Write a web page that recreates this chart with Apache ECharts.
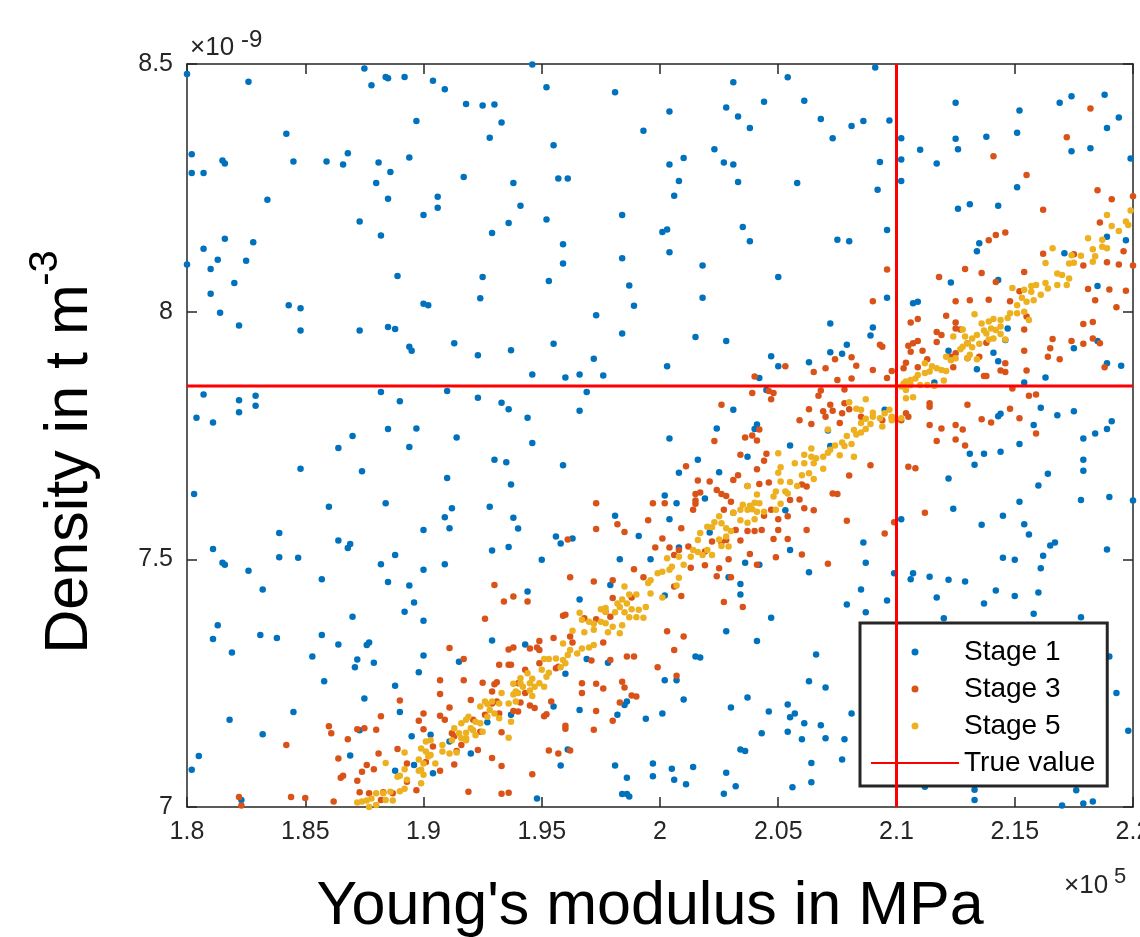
<!DOCTYPE html>
<html><head><meta charset="utf-8">
<script src="https://cdn.jsdelivr.net/npm/echarts@6/dist/echarts.min.js"></script>
<style>html,body{margin:0;padding:0;background:#fff}#c{width:1140px;height:937px}</style>
</head><body><div id="c"></div>
<script>
// Young's modulus (x10^5 MPa), density (x10^-9 t/m^3)
const stage1 = [
[1.800,8.480],[1.826,8.464],[1.875,8.491],[1.878,8.457],[1.884,8.474],[1.885,8.471],[1.892,8.474],[1.897,8.385],[1.842,8.359],[1.802,8.318],[1.815,8.305],[1.816,8.299],[1.845,8.303],[1.859,8.303],[1.868,8.320],[1.866,8.297],[1.881,8.301],[1.894,8.311],[1.802,8.280],[1.807,8.280],[1.886,8.282],[1.880,8.260],[1.834,8.226],[1.885,8.228],[1.873,8.182],[1.882,8.154],[1.816,8.147],[1.828,8.140],[1.807,8.127],[1.813,8.105],[1.825,8.103],[1.800,8.095],[1.810,8.086],[1.889,8.072],[1.820,8.058],[1.810,8.036],[1.843,8.013],[1.848,8.007],
[1.946,8.499],[1.904,8.466],[1.909,8.449],[1.952,8.453],[1.981,8.443],[1.918,8.419],[1.925,8.416],[1.930,8.418],[1.933,8.382],[1.928,8.351],[1.993,8.365],[1.955,8.336],[1.917,8.272],[1.938,8.260],[1.957,8.269],[1.961,8.269],[1.906,8.232],[1.906,8.210],[1.900,8.195],[1.941,8.214],[1.952,8.186],[1.984,8.195],[1.936,8.179],[1.929,8.159],[1.959,8.136],[1.959,8.097],[1.984,8.108],[1.925,8.070],[1.953,8.062],[1.987,8.053],[1.924,8.027],[1.900,8.016],[1.902,8.013],[1.989,8.012],
[2.091,8.493],[2.031,8.463],[2.054,8.473],[2.004,8.404],[2.044,8.424],[2.061,8.426],[2.028,8.412],[2.033,8.394],[2.038,8.371],[2.068,8.389],[2.081,8.375],[2.086,8.385],[2.097,8.386],[2.073,8.350],[2.023,8.328],[2.010,8.310],[2.004,8.297],[2.027,8.301],[2.031,8.297],[2.093,8.302],[2.008,8.264],[2.033,8.262],[2.058,8.260],[2.006,8.234],[2.092,8.246],[2.001,8.161],[2.003,8.166],[2.035,8.171],[2.096,8.165],[2.038,8.142],[2.075,8.145],[2.080,8.142],[2.004,8.120],[2.018,8.093],[2.050,8.070],[2.018,8.028],[2.096,8.028],
[2.102,8.350],[2.102,8.307],[2.102,8.264],[2.125,8.422],[2.152,8.406],[2.169,8.422],[2.174,8.435],[2.188,8.438],[2.194,8.392],[2.189,8.371],[2.125,8.349],[2.138,8.353],[2.151,8.361],[2.110,8.327],[2.126,8.328],[2.117,8.299],[2.174,8.324],[2.182,8.330],[2.199,8.309],[2.151,8.251],[2.126,8.208],[2.131,8.217],[2.143,8.214],[2.135,8.138],[2.134,8.122],[2.171,8.118],[2.189,8.151],[2.197,8.144],[2.123,8.059],[2.143,8.064],[2.185,8.052],[2.107,8.017],[2.109,8.020],
[1.814,7.998],[1.822,7.972],[1.848,7.962],[1.873,7.962],[1.885,7.969],[1.888,7.965],[1.894,7.929],[1.895,7.921],[1.807,7.833],[1.822,7.821],[1.829,7.830],[1.829,7.810],[1.804,7.786],[1.811,7.776],[1.822,7.797],[1.882,7.838],[1.890,7.819],[1.885,7.763],[1.897,7.764],[1.870,7.749],[1.864,7.725],[1.894,7.727],[1.848,7.683],[1.874,7.678],[1.803,7.632],[1.860,7.606],[1.884,7.613],[1.839,7.553],[1.864,7.538],[1.869,7.531],[1.868,7.523],[1.811,7.521],[1.839,7.504],[1.847,7.503],[1.888,7.509],
[1.973,7.993],[1.984,7.956],[1.913,7.936],[1.923,7.912],[1.937,7.922],[1.955,7.935],[1.972,7.905],[1.946,7.873],[1.960,7.867],[1.966,7.873],[1.976,7.871],[1.910,7.840],[1.923,7.826],[1.933,7.816],[1.936,7.803],[1.944,7.786],[1.969,7.838],[1.966,7.800],[1.914,7.746],[1.946,7.735],[1.930,7.701],[1.935,7.696],[1.959,7.690],[1.910,7.664],[1.937,7.651],[1.912,7.603],[1.928,7.606],[1.909,7.585],[1.911,7.563],[1.938,7.584],[1.940,7.562],[1.900,7.559],[1.956,7.546],[1.958,7.532],[1.963,7.542],[1.929,7.518],[1.936,7.525],[1.981,7.588],[1.991,7.547],[1.950,7.499],[1.983,7.500],[1.996,7.500],
[2.072,7.976],[2.090,7.968],[2.089,7.952],[2.015,7.949],[2.028,7.941],[2.079,7.933],[2.072,7.918],[2.077,7.915],[2.047,7.910],[2.003,7.890],[2.050,7.890],[2.063,7.898],[2.042,7.866],[2.045,7.842],[2.031,7.802],[2.095,7.802],[2.024,7.764],[2.041,7.772],[2.040,7.763],[2.004,7.744],[2.055,7.730],[2.072,7.729],[2.037,7.707],[2.016,7.701],[2.008,7.675],[2.025,7.676],[2.002,7.629],[2.007,7.613],[2.019,7.623],[2.004,7.581],[2.053,7.599],[2.021,7.554],[2.008,7.524],[2.055,7.519],[2.086,7.534],[2.071,7.760],
[2.147,7.966],[2.146,7.943],[2.175,7.926],[2.185,7.941],[2.189,7.896],[2.195,7.891],[2.122,7.921],[2.141,7.917],[2.143,7.900],[2.134,7.884],[2.116,7.857],[2.154,7.857],[2.163,7.867],[2.161,7.806],[2.168,7.791],[2.175,7.799],[2.143,7.789],[2.144,7.794],[2.158,7.771],[2.191,7.779],[2.189,7.763],[2.184,7.754],[2.179,7.744],[2.152,7.733],[2.144,7.717],[2.137,7.713],[2.131,7.713],[2.133,7.691],[2.179,7.701],[2.179,7.679],[2.164,7.673],[2.122,7.663],[2.160,7.649],[2.200,7.619],[2.178,7.620],[2.190,7.626],[2.152,7.616],[2.124,7.602],[2.102,7.581],[2.136,7.570],[2.145,7.588],[2.154,7.571],[2.156,7.550],[2.165,7.528],[2.167,7.534],[2.189,7.520],[2.162,7.507],[2.145,7.503],[2.150,7.499],
[1.815,7.493],[1.816,7.489],[1.826,7.477],[1.882,7.490],[1.857,7.460],[1.832,7.439],[1.885,7.454],[1.894,7.447],[1.896,7.413],[1.892,7.394],[1.870,7.384],[1.813,7.367],[1.811,7.339],[1.831,7.347],[1.838,7.341],[1.857,7.347],[1.864,7.328],[1.876,7.327],[1.877,7.332],[1.819,7.312],[1.853,7.304],[1.872,7.298],[1.871,7.282],[1.879,7.291],[1.858,7.254],[1.888,7.245],[1.875,7.219],[1.890,7.192],[1.845,7.192],[1.818,7.176],[1.832,7.147],[1.873,7.155],[1.895,7.143],[1.869,7.104],[1.805,7.103],[1.802,7.075],[1.888,7.073],[1.896,7.085],[1.823,7.014],[1.898,7.272],
[1.909,7.490],[1.900,7.479],[1.944,7.435],[1.966,7.419],[1.979,7.448],[1.900,7.376],[1.929,7.336],[1.943,7.328],[1.900,7.306],[1.915,7.293],[1.969,7.299],[1.978,7.291],[1.960,7.269],[1.955,7.203],[1.966,7.196],[1.937,7.186],[1.927,7.171],[1.982,7.186],[1.985,7.206],[1.986,7.213],[1.994,7.178],[1.903,7.146],[1.911,7.132],[1.920,7.108],[1.904,7.068],[1.961,7.116],[1.958,7.084],[1.981,7.084],[1.986,7.059],[1.997,7.088],[1.997,7.062],[1.984,7.026],[1.986,7.026],[1.987,7.021],[1.948,7.017],
[2.036,7.493],[2.042,7.489],[2.029,7.464],[2.063,7.474],[2.087,7.493],[2.099,7.472],[2.034,7.450],[2.034,7.429],[2.002,7.427],[2.085,7.439],[2.079,7.409],[2.087,7.393],[2.096,7.417],[2.047,7.382],[2.028,7.355],[2.041,7.335],[2.066,7.308],[2.015,7.304],[2.017,7.302],[2.002,7.256],[2.007,7.256],[2.063,7.254],[2.070,7.241],[2.010,7.217],[2.030,7.201],[2.037,7.221],[2.001,7.189],[2.046,7.193],[2.054,7.207],[2.055,7.181],[2.057,7.189],[2.061,7.169],[2.068,7.165],[2.081,7.189],[2.043,7.149],[2.054,7.152],[2.060,7.137],[2.070,7.139],[2.078,7.137],[2.034,7.116],[2.036,7.113],[2.064,7.089],[2.077,7.096],[2.005,7.077],[2.014,7.081],[2.006,7.055],[2.011,7.046],[2.028,7.069],[2.032,7.042],[2.027,7.027],[2.056,7.040],[2.064,7.050],
[2.161,7.482],[2.107,7.472],[2.106,7.460],[2.114,7.465],[2.122,7.459],[2.129,7.455],[2.117,7.423],[2.142,7.437],[2.150,7.426],[2.160,7.433],[2.137,7.411],[2.158,7.390],[2.120,7.381],[2.178,7.383],[2.190,7.304],[2.193,7.230],[2.198,7.154],[2.112,7.041],[2.133,7.035],[2.133,7.014],[2.176,7.034],[2.170,7.003],[2.179,7.007],[2.183,7.011]
];
const stage3 = [
[2.096,8.085],[2.090,8.021],
[2.182,8.410],[2.172,8.352],[2.141,8.314],[2.155,8.276],[2.185,8.245],[2.191,8.227],[2.200,8.233],[2.162,8.206],[2.186,8.180],[2.146,8.160],[2.142,8.155],[2.139,8.144],[2.162,8.117],[2.175,8.116],[2.179,8.093],[2.189,8.100],[2.194,8.095],[2.196,8.122],[2.200,8.093],[2.118,8.070],[2.129,8.086],[2.136,8.078],[2.154,8.080],[2.142,8.060],[2.125,8.021],[2.131,8.023],[2.139,8.024],[2.148,8.021],[2.152,8.041],[2.184,8.023],[2.190,8.045],[2.197,8.042],[2.181,8.046],[2.193,8.009],
[1.973,7.613],[1.997,7.613],[1.982,7.571],[1.985,7.555],[1.973,7.561],[1.961,7.540],[1.995,7.579],[1.998,7.524],
[2.093,7.933],[2.094,7.929],[2.081,7.908],[2.074,7.904],[2.083,7.891],[2.070,7.886],[2.065,7.878],[2.053,7.890],[2.040,7.869],[2.098,7.880],[2.090,7.882],[2.075,7.862],[2.081,7.865],[2.096,7.866],[2.068,7.841],[2.078,7.843],[2.067,7.830],[2.039,7.836],[2.046,7.840],[2.048,7.836],[2.047,7.823],[2.026,7.812],[2.072,7.812],[2.073,7.800],[2.069,7.799],[2.070,7.788],[2.077,7.795],[2.080,7.803],[2.078,7.815],[2.063,7.803],[2.059,7.781],[2.064,7.773],[2.076,7.775],[2.085,7.788],[2.094,7.781],[2.098,7.786],[2.042,7.762],[2.036,7.746],[2.039,7.750],[2.041,7.740],[2.023,7.739],[2.034,7.711],[2.045,7.713],[2.044,7.699],[2.011,7.688],[2.041,7.682],[2.033,7.670],[2.031,7.660],[2.021,7.657],[2.016,7.659],[2.037,7.648],[2.042,7.652],[2.046,7.655],[2.015,7.632],[2.017,7.635],[2.024,7.640],[2.026,7.632],[2.028,7.628],[2.002,7.613],[2.015,7.619],[2.015,7.612],[2.014,7.600],[2.030,7.616],[2.027,7.600],[2.031,7.594],[2.080,7.669],[2.089,7.690],[2.073,7.633],[2.075,7.632],[2.065,7.599],[2.079,7.578],[2.050,7.581],[2.054,7.587],[2.044,7.588],[2.047,7.600],[2.062,7.647],[2.059,7.621],[2.055,7.620],[2.061,7.603],[2.060,7.651],[2.009,7.563],[2.001,7.542],[2.004,7.524],[2.008,7.519],[2.006,7.509],[2.012,7.526],[2.019,7.516],[2.022,7.536],[2.026,7.534],[2.028,7.539],[2.034,7.538],[2.032,7.559],[2.037,7.557],[2.040,7.557],[2.043,7.559],[2.048,7.541],[2.050,7.559],[2.054,7.541],[2.062,7.559],[2.095,7.552],[2.099,7.575],[2.029,7.500],[2.038,7.511],[2.049,7.504],[2.060,7.510],
[2.121,7.992],[2.106,7.978],[2.109,7.985],[2.125,7.978],[2.125,7.966],[2.127,7.964],[2.117,7.959],[2.119,7.953],[2.117,7.939],[2.109,7.941],[2.107,7.936],[2.105,7.931],[2.106,7.919],[2.111,7.921],[2.123,7.909],[2.125,7.916],[2.130,7.906],[2.135,7.909],[2.130,7.936],[2.138,7.937],[2.104,7.897],[2.103,7.886],[2.109,7.888],[2.113,7.904],[2.124,7.888],[2.137,7.870],[2.138,7.870],[2.146,7.896],[2.144,7.881],[2.146,7.878],[2.155,7.881],[2.154,7.921],[2.154,7.964],[2.165,7.926],[2.166,7.945],[2.164,7.909],[2.169,7.904],[2.174,7.941],[2.179,7.975],[2.183,7.979],[2.179,7.935],[2.183,7.946],[2.186,7.936],[2.188,7.888],[2.149,7.845],[2.156,7.830],[2.159,7.833],[2.130,7.812],[2.114,7.815],[2.114,7.808],[2.104,7.795],[2.105,7.788],[2.102,7.781],[2.114,7.771],[2.119,7.764],[2.125,7.771],[2.128,7.762],[2.136,7.783],[2.140,7.776],[2.148,7.804],[2.152,7.785],[2.159,7.754],[2.117,7.739],[2.125,7.742],[2.129,7.730],[2.105,7.687],[2.108,7.684],[2.112,7.594],[2.155,7.990],
[1.890,7.215],[1.882,7.183],[1.860,7.163],[1.861,7.149],[1.872,7.157],[1.875,7.159],[1.880,7.156],[1.868,7.137],[1.842,7.125],[1.864,7.098],[1.881,7.108],[1.889,7.117],[1.893,7.088],[1.876,7.085],[1.874,7.071],[1.879,7.076],[1.866,7.063],[1.865,7.059],[1.872,7.053],[1.873,7.030],[1.877,7.028],[1.883,7.030],[1.882,7.014],[1.887,7.028],[1.862,7.011],[1.844,7.020],[1.850,7.018],[1.822,7.020],[1.823,7.003],[1.893,7.051],[1.897,7.034],[1.898,7.174],
[1.962,7.464],[1.989,7.480],[1.972,7.455],[1.980,7.458],[1.993,7.464],[1.930,7.448],[1.938,7.425],[1.934,7.415],[1.944,7.415],[1.988,7.423],[1.980,7.422],[1.926,7.380],[1.959,7.386],[1.960,7.388],[1.968,7.381],[1.977,7.394],[1.979,7.384],[1.973,7.379],[1.962,7.344],[1.955,7.341],[1.949,7.335],[1.936,7.318],[1.938,7.322],[1.911,7.321],[1.917,7.299],[1.945,7.320],[1.948,7.322],[1.949,7.317],[1.963,7.332],[1.976,7.332],[1.971,7.296],[1.979,7.297],[1.986,7.304],[1.989,7.304],[1.932,7.287],[1.936,7.287],[1.937,7.287],[1.943,7.277],[1.949,7.290],[1.956,7.280],[1.957,7.283],[1.907,7.256],[1.917,7.256],[1.925,7.251],[1.930,7.248],[1.929,7.233],[1.931,7.252],[1.940,7.250],[1.907,7.228],[1.920,7.216],[1.911,7.201],[1.929,7.209],[1.931,7.213],[1.941,7.211],[1.943,7.230],[1.945,7.205],[1.947,7.200],[1.954,7.213],[1.967,7.250],[1.973,7.249],[1.976,7.239],[1.967,7.230],[1.984,7.253],[1.985,7.241],[1.988,7.225],[1.990,7.223],[1.983,7.211],[1.900,7.189],[1.907,7.184],[1.909,7.176],[1.921,7.176],[1.926,7.186],[1.932,7.189],[1.938,7.194],[1.940,7.193],[1.951,7.183],[1.952,7.187],[1.973,7.194],[1.980,7.174],[1.960,7.164],[1.960,7.158],[1.972,7.156],[1.900,7.157],[1.912,7.149],[1.913,7.143],[1.924,7.152],[1.933,7.151],[1.904,7.122],[1.914,7.113],[1.916,7.125],[1.923,7.115],[1.953,7.114],[1.957,7.108],[1.962,7.114],[1.901,7.091],[1.913,7.086],[1.929,7.099],[1.907,7.073],[1.933,7.083],[1.946,7.066],[1.919,7.031],[1.933,7.027],[1.936,7.029],[1.999,7.282],
[2.013,7.483],[2.019,7.488],[2.025,7.482],[2.024,7.466],[2.030,7.464],[2.009,7.426],[2.006,7.445],[2.027,7.414],[2.035,7.404],[2.003,7.355],[2.010,7.344],[2.006,7.317],[2.007,7.265],[2.071,7.491],[2.041,7.489]
];
const stage5 = [
[2.189,8.195],[2.199,8.204],[2.191,8.173],[2.194,8.163],[2.197,8.182],[2.181,8.148],[2.187,8.145],[2.187,8.131],[2.189,8.128],[2.183,8.126],[2.184,8.112],[2.183,8.101],[2.178,8.113],[2.174,8.114],[2.173,8.097],[2.175,8.099],[2.166,8.128],[2.163,8.098],[2.168,8.077],[2.170,8.074],[2.173,8.067],[2.172,8.054],[2.168,8.054],[2.163,8.058],[2.164,8.047],[2.159,8.054],[2.157,8.052],[2.157,8.040],[2.161,8.034],[2.158,8.023],[2.155,8.020],[2.151,8.013],[2.149,8.048],[2.153,8.028],[2.154,8.044],[2.198,8.175],
[2.087,7.823],[2.080,7.817],[2.083,7.804],[2.085,7.802],[2.090,7.796],[2.087,7.784],[2.090,7.788],[2.093,7.785],[2.095,7.795],[2.097,7.802],[2.098,7.788],[2.085,7.775],[2.087,7.763],[2.082,7.761],[2.083,7.752],[2.079,7.749],[2.085,7.756],[2.089,7.773],[2.094,7.768],[2.098,7.781],[2.071,7.762],[2.074,7.730],[2.071,7.715],[2.077,7.736],[2.078,7.729],[2.081,7.733],[2.076,7.710],[2.082,7.707],[2.072,7.721],[2.069,7.707],[2.066,7.704],[2.064,7.724],[2.061,7.711],[2.064,7.707],[2.057,7.694],[2.061,7.694],[2.065,7.694],[2.069,7.683],[2.065,7.662],[2.063,7.674],[2.060,7.670],[2.058,7.648],[2.055,7.656],[2.051,7.686],[2.050,7.714],[2.050,7.675],[2.051,7.657],[2.049,7.637],[2.053,7.637],[2.054,7.633],[2.048,7.627],[2.051,7.612],[2.049,7.600],[2.044,7.596],[2.042,7.613],[2.040,7.614],[2.041,7.631],[2.037,7.648],[2.038,7.608],[2.037,7.600],[2.039,7.601],[2.041,7.596],[2.035,7.610],[2.034,7.600],[2.031,7.594],[2.037,7.574],[2.034,7.579],[2.040,7.581],[2.026,7.573],[2.025,7.587],[2.023,7.575],[2.022,7.565],[2.028,7.563],[2.030,7.557],[2.028,7.546],[2.025,7.540],[2.020,7.566],[2.017,7.553],[2.016,7.539],[2.014,7.519],[2.016,7.515],[2.018,7.509],[2.020,7.519],[2.022,7.509],[2.026,7.527],[2.029,7.526],[2.008,7.505],[2.013,7.505],[2.003,7.502],
[2.133,7.995],[2.136,7.976],[2.139,7.980],[2.141,7.985],[2.144,7.983],[2.147,7.987],[2.148,7.997],[2.151,7.997],[2.154,8.000],[2.156,7.983],[2.144,7.970],[2.142,7.963],[2.140,7.966],[2.138,7.956],[2.137,7.962],[2.134,7.953],[2.132,7.946],[2.129,7.950],[2.130,7.936],[2.128,7.929],[2.127,7.924],[2.132,7.928],[2.135,7.935],[2.139,7.944],[2.141,7.946],[2.144,7.955],[2.146,7.944],[2.131,7.913],[2.130,7.906],[2.125,7.906],[2.123,7.902],[2.121,7.909],[2.134,7.904],[2.112,7.896],[2.115,7.890],[2.117,7.886],[2.119,7.882],[2.121,7.880],[2.114,7.879],[2.112,7.876],[2.109,7.872],[2.108,7.865],[2.106,7.862],[2.104,7.859],[2.103,7.855],[2.102,7.849],[2.104,7.842],[2.106,7.852],[2.110,7.852],[2.113,7.852],[2.116,7.850],[2.120,7.861],[2.107,7.827],[2.104,7.825],[2.102,7.785],[2.124,7.950],[2.128,7.964],
[1.892,7.110],[1.884,7.089],[1.892,7.076],[1.890,7.063],[1.889,7.061],[1.893,7.055],[1.892,7.037],[1.890,7.032],[1.886,7.031],[1.883,7.028],[1.880,7.028],[1.878,7.017],[1.874,7.011],[1.876,7.013],[1.872,7.009],[1.877,7.000],[1.880,7.004],[1.884,7.014],[1.887,7.013],[1.898,7.096],[1.898,7.073],
[1.985,7.445],[1.996,7.458],[1.999,7.472],[1.995,7.452],[1.996,7.431],[1.990,7.429],[1.987,7.429],[1.984,7.419],[1.982,7.411],[1.986,7.411],[1.983,7.404],[1.988,7.399],[1.991,7.398],[1.994,7.404],[1.985,7.393],[1.981,7.393],[1.975,7.399],[1.977,7.402],[1.977,7.394],[1.966,7.392],[1.967,7.378],[1.970,7.374],[1.972,7.370],[1.975,7.374],[1.977,7.371],[1.980,7.364],[1.984,7.367],[1.987,7.383],[1.990,7.383],[1.993,7.382],[1.978,7.353],[1.983,7.351],[1.972,7.358],[1.968,7.353],[1.963,7.356],[1.959,7.330],[1.962,7.317],[1.965,7.310],[1.967,7.320],[1.970,7.322],[1.972,7.327],[1.961,7.307],[1.959,7.297],[1.960,7.290],[1.958,7.282],[1.956,7.300],[1.951,7.299],[1.953,7.299],[1.950,7.277],[1.953,7.271],[1.952,7.263],[1.949,7.250],[1.951,7.243],[1.947,7.243],[1.946,7.224],[1.946,7.259],[1.944,7.270],[1.941,7.260],[1.941,7.250],[1.942,7.243],[1.945,7.250],[1.945,7.235],[1.939,7.233],[1.940,7.230],[1.938,7.227],[1.936,7.209],[1.939,7.213],[1.938,7.249],[1.933,7.230],[1.932,7.209],[1.929,7.213],[1.927,7.208],[1.926,7.213],[1.924,7.203],[1.928,7.196],[1.930,7.189],[1.927,7.182],[1.932,7.179],[1.937,7.172],[1.919,7.182],[1.918,7.176],[1.922,7.172],[1.924,7.169],[1.925,7.152],[1.922,7.145],[1.920,7.159],[1.921,7.155],[1.916,7.169],[1.913,7.159],[1.915,7.149],[1.916,7.139],[1.918,7.139],[1.918,7.135],[1.912,7.135],[1.908,7.125],[1.903,7.135],[1.901,7.132],[1.901,7.112],[1.899,7.118],[1.902,7.102],[1.903,7.105],[1.905,7.088],[1.900,7.088],[1.899,7.075],[1.900,7.065],[1.899,7.048],[1.908,7.112],[1.911,7.108],[1.914,7.110],[1.936,7.140],[1.918,7.150],
[2.001,7.475],[2.004,7.479],[2.005,7.485],[2.008,7.463],[2.007,7.447],[2.001,7.423],[2.010,7.489]
];
const trueModulus = 2.1;
const trueDensity = 7.85;
const xRange = [1.8, 2.2], xStep = 0.05;
const yRange = [7, 8.5], yStep = 0.5;
const seriesNames = ['Stage 1', 'Stage 3', 'Stage 5', 'True value'];
const colors = ['#0072BD', '#D95319', '#EDB120', '#FF0000'];

const FONT = '"Liberation Sans", Arial, sans-serif';
const AX = '#262626';
const chart = echarts.init(document.getElementById('c'), null, {renderer: 'canvas'});
const fmt = v => String(+v.toFixed(2));
function mkX(pos, show) {
  return {type: 'value', position: pos, min: xRange[0], max: xRange[1], interval: xStep,
    axisLine: {show: true, onZero: false, lineStyle: {color: AX, width: 1.5}},
    axisTick: {show: true, inside: true, length: 10, lineStyle: {color: AX, width: 1.5}},
    axisLabel: {show: show, fontSize: 25, color: AX, margin: 13, fontFamily: FONT, formatter: fmt, showMinLabel: true, showMaxLabel: true, hideOverlap: false},
    splitLine: {show: false}};
}
function mkY(pos, show) {
  return {type: 'value', position: pos, min: yRange[0], max: yRange[1], interval: yStep,
    axisLine: {show: true, onZero: false, lineStyle: {color: AX, width: 1.5}},
    axisTick: {show: true, inside: true, length: 10, lineStyle: {color: AX, width: 1.5}},
    axisLabel: {show: show, fontSize: 25, color: AX, margin: 14, fontFamily: FONT, formatter: fmt, showMinLabel: true, showMaxLabel: true},
    splitLine: {show: false}};
}
const scatter = (i, d) => ({name: seriesNames[i], type: 'scatter', data: d, symbol: 'circle', symbolSize: 6.5,
  itemStyle: {color: colors[i], opacity: 1}, z: 2 + i, silent: true});
const option = {
  animation: false,
  backgroundColor: '#fff',
  grid: {left: 187, right: 7, top: 64, bottom: 130, containLabel: false, outerBoundsMode: 'none'},
  xAxis: [mkX('bottom', true), mkX('top', false)],
  yAxis: [mkY('left', true), mkY('right', false)],
  legend: {
    orient: 'vertical', left: 860, top: 623,
    padding: [15, 12, 9, 10], itemGap: 9, itemWidth: 88, itemHeight: 7,
    backgroundColor: '#fff', borderColor: AX, borderWidth: 3, borderRadius: 0,
    textStyle: {fontSize: 28, color: '#000', fontFamily: FONT},
    selectedMode: false,
    data: [
      {name: seriesNames[0], icon: 'circle'},
      {name: seriesNames[1], icon: 'circle'},
      {name: seriesNames[2], icon: 'circle'},
      {name: seriesNames[3], itemStyle: {opacity: 0}}
    ]
  },
  series: [
    scatter(0, stage1), scatter(1, stage3), scatter(2, stage5),
    {name: seriesNames[3], type: 'line', data: [[trueModulus, yRange[0]], [trueModulus, yRange[1]]], symbol: 'none',
     lineStyle: {color: colors[3], width: 3}, itemStyle: {color: colors[3]}, z: 6, silent: true},
    {name: seriesNames[3], type: 'line', data: [[xRange[0], trueDensity], [xRange[1], trueDensity]], symbol: 'none',
     lineStyle: {color: colors[3], width: 3}, itemStyle: {color: colors[3]}, z: 6, silent: true}
  ],
  graphic: [
    {type: 'text', x: 70, y: 469, rotation: Math.PI / 2, silent: true,
     style: {text: 'Density in t m', fontSize: 61, fontFamily: FONT, fill: '#000', align: 'center', verticalAlign: 'middle'}},
    {type: 'text', x: 46, y: 268, rotation: Math.PI / 2, silent: true,
     style: {text: '-3', fontSize: 40, fontFamily: FONT, fill: '#000', align: 'center', verticalAlign: 'middle'}},
    {type: 'text', x: 650, y: 907, silent: true,
     style: {text: "Young's modulus in MPa", fontSize: 61, fontFamily: FONT, fill: '#000', align: 'center', verticalAlign: 'middle'}},
    {type: 'text', x: 190, y: 48, silent: true,
     style: {text: '\u00d710', fontSize: 26, fontFamily: FONT, fill: AX, align: 'left', verticalAlign: 'middle'}},
    {type: 'text', x: 241, y: 40, silent: true,
     style: {text: '-9', fontSize: 24, fontFamily: FONT, fill: AX, align: 'left', verticalAlign: 'middle'}},
    {type: 'text', x: 1064, y: 886, silent: true,
     style: {text: '\u00d710', fontSize: 26, fontFamily: FONT, fill: AX, align: 'left', verticalAlign: 'middle'}},
    {type: 'text', x: 1114, y: 877, silent: true,
     style: {text: '5', fontSize: 22, fontFamily: FONT, fill: AX, align: 'left', verticalAlign: 'middle'}}
  ]
};
chart.setOption(option);
</script>
</body></html>
